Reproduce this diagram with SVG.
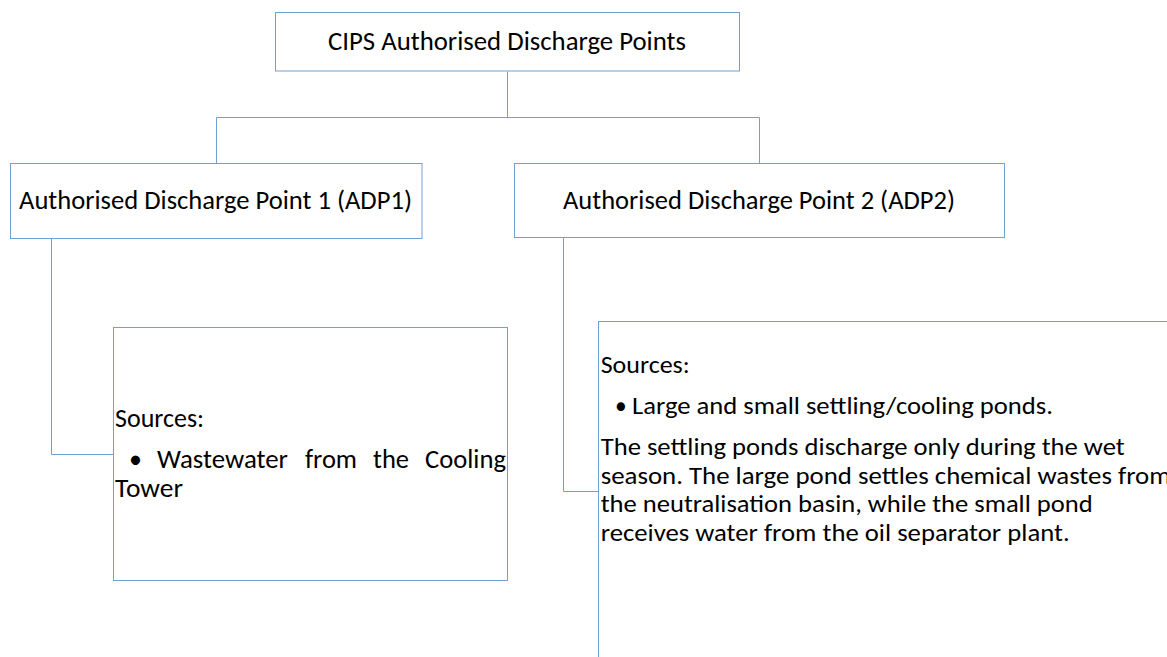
<svg xmlns="http://www.w3.org/2000/svg" width="1167" height="657" viewBox="0 0 1167 657">
<style>
.box{fill:#ffffff;stroke:#6fa0d8;stroke-width:1}
.con{fill:none;stroke:#6fa0d8;stroke-width:1}
.t{font-family:Carlito,Lato,"Liberation Sans",sans-serif;fill:#000000;font-size:26px}
.p{font-size:23.5px}
</style>
<rect x="0" y="0" width="1167" height="657" fill="#ffffff"/>
<g id="connectors">
<path class="con" d="M507.5,71.5 V117.5 M216.5,117.5 H759.5 M216.5,117.5 V163.5 M759.5,117.5 V163.5"/>
<path class="con" d="M51.5,238.5 V454.5 H113.5"/>
<path class="con" d="M563.5,237.5 V491.5 H598.5"/>
</g>
<g id="root">
<rect class="box" x="275.5" y="12.5" width="464" height="58.5"/>
<text class="t" x="328" y="50" textLength="358" lengthAdjust="spacingAndGlyphs">CIPS Authorised Discharge Points</text>
</g>
<g id="adp1">
<rect class="box" x="10.5" y="163.5" width="411.5" height="75"/>
<text class="t" x="19" y="209" textLength="393" lengthAdjust="spacingAndGlyphs">Authorised Discharge Point 1 (ADP1)</text>
</g>
<g id="adp2">
<rect class="box" x="514.5" y="163.5" width="490" height="74"/>
<text class="t" x="563" y="209" textLength="392" lengthAdjust="spacingAndGlyphs">Authorised Discharge Point 2 (ADP2)</text>
</g>
<g id="adp1-sources">
<rect class="box" x="113.5" y="327.5" width="394" height="253"/>
<text class="t" x="115" y="427" textLength="89" lengthAdjust="spacingAndGlyphs">Sources:</text>
<text class="t" x="129" y="468">•</text>
<text class="t" x="157" y="468" textLength="131" lengthAdjust="spacingAndGlyphs">Wastewater</text>
<text class="t" x="305" y="468" textLength="52" lengthAdjust="spacingAndGlyphs">from</text>
<text class="t" x="373" y="468" textLength="36" lengthAdjust="spacingAndGlyphs">the</text>
<text class="t" x="425" y="468" textLength="81" lengthAdjust="spacingAndGlyphs">Cooling</text>
<text class="t" x="115" y="497" textLength="68" lengthAdjust="spacingAndGlyphs">Tower</text>
</g>
<g id="adp2-sources">
<rect class="box" x="598.5" y="321.5" width="600" height="360"/>
<text class="t p" x="600.7" y="373.3" textLength="89" lengthAdjust="spacingAndGlyphs">Sources:</text>
<text class="t p" x="615" y="414">•</text>
<text class="t p" x="632" y="414" textLength="421" lengthAdjust="spacingAndGlyphs">Large and small settling/cooling ponds.</text>
<text class="t p" x="600.7" y="455" textLength="524" lengthAdjust="spacingAndGlyphs">The settling ponds discharge only during the wet</text>
<text class="t p" x="600.7" y="483.5" textLength="570" lengthAdjust="spacingAndGlyphs">season. The large pond settles chemical wastes from</text>
<text class="t p" x="600.7" y="512" textLength="492" lengthAdjust="spacingAndGlyphs">the neutralisation basin, while the small pond</text>
<text class="t p" x="600.7" y="540.5" textLength="469" lengthAdjust="spacingAndGlyphs">receives water from the oil separator plant.</text>
</g>
</svg>
